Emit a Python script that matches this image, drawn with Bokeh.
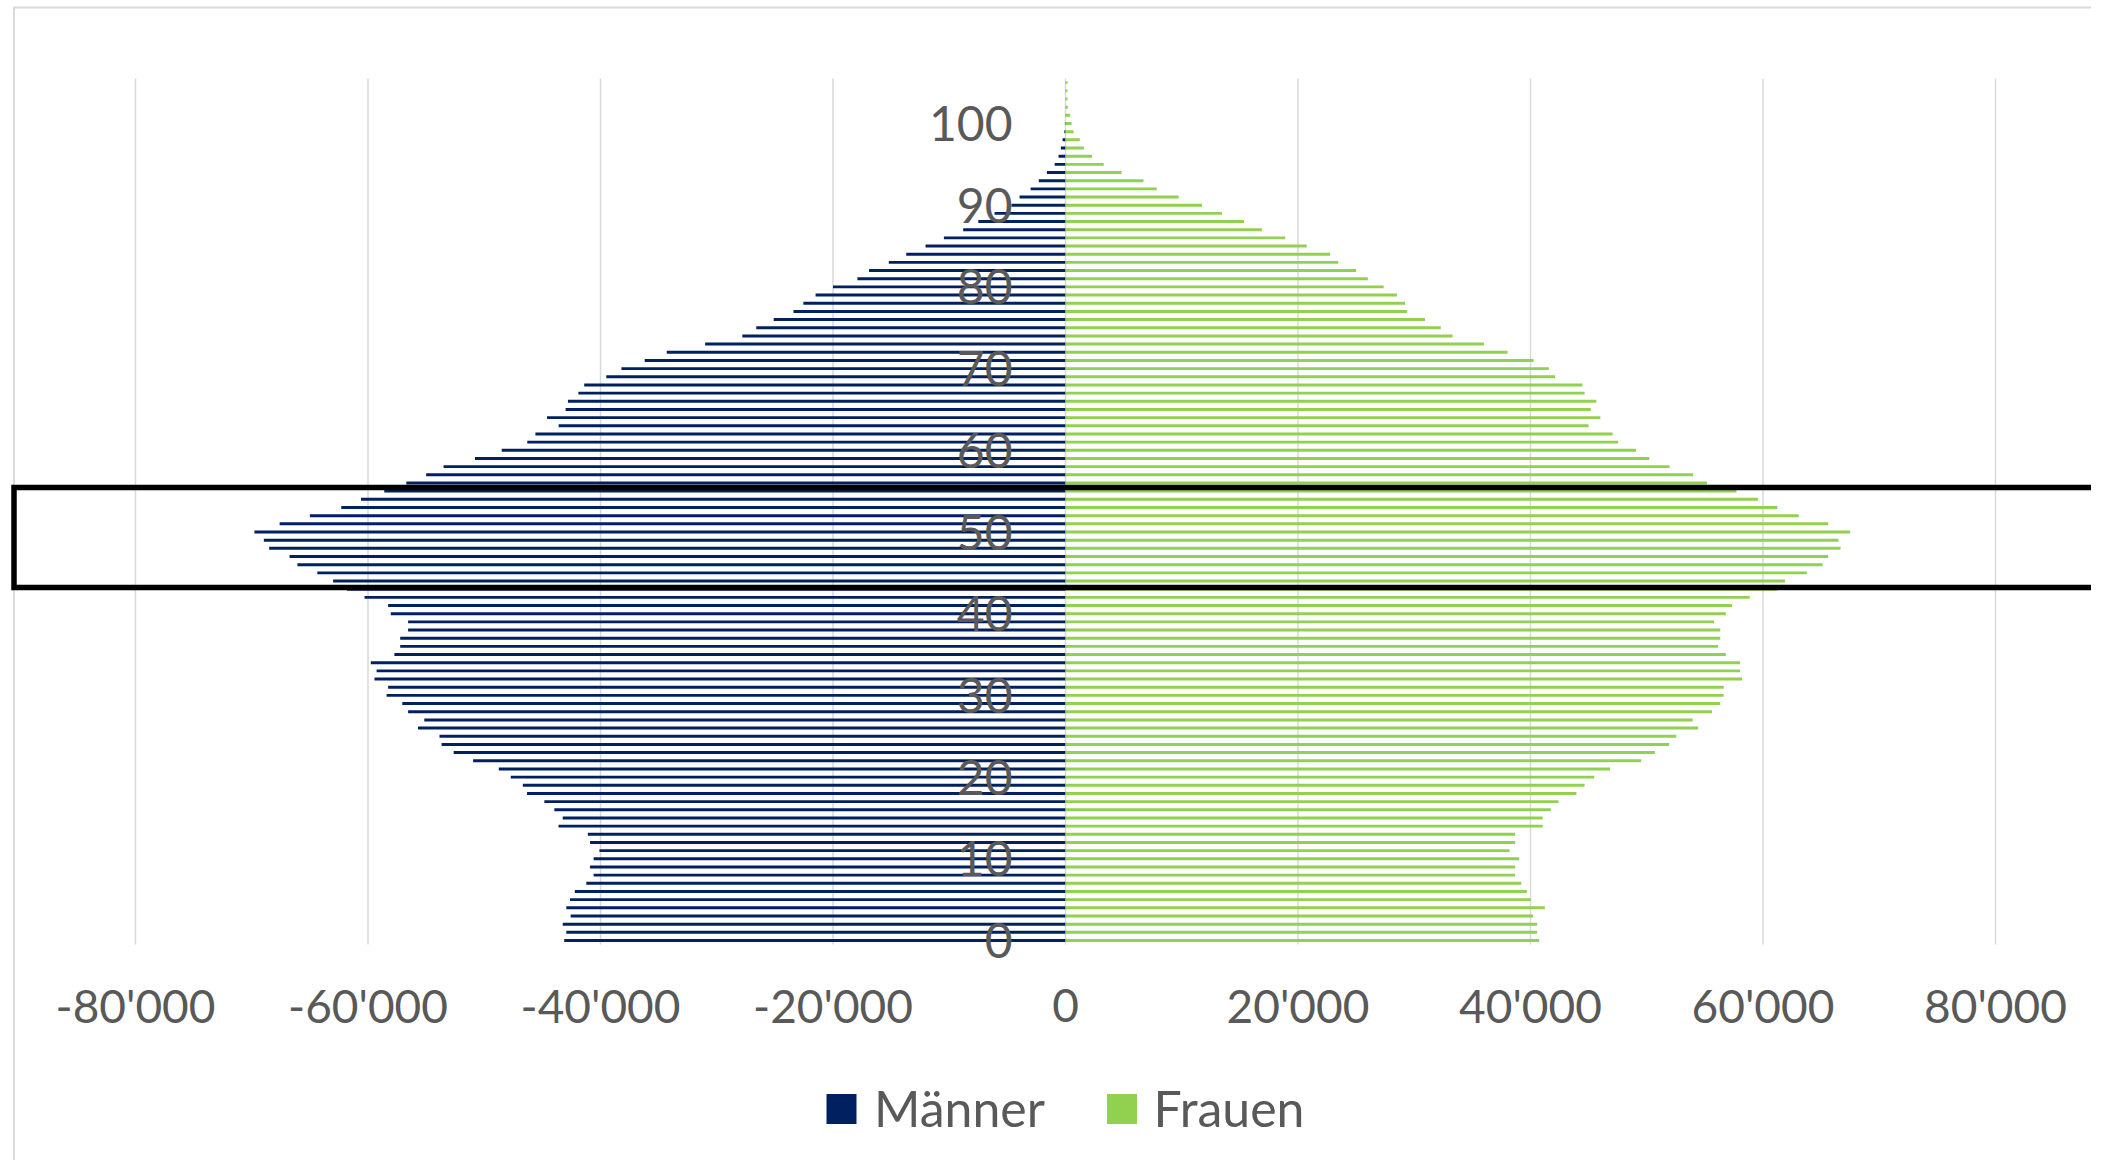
from bokeh.plotting import figure
from bokeh.models import Range1d
from bokeh.core.properties import value
from bokeh.embed import file_html
from bokeh.resources import INLINE

# ---------------- data ----------------
ages = list(range(0, 106))

maenner = [
    43120, 42940, 43250, 42570, 42940, 42620, 42210, 41220, 40590, 40900,
    40590, 40090, 40900, 41090, 43610, 43250, 43970, 44830, 46320, 46680,
    47720, 48750, 50960, 52630, 53670, 53850, 55700, 55160, 56550, 57050,
    58400, 58270, 59440, 59260, 59760, 57730, 57230, 57230, 56550, 56550,
    58040, 58270, 60300, 61800, 63000, 64360, 66070, 66750, 68500, 68960,
    69770, 67600, 65000, 62300, 60600, 58600, 56700, 55000, 53500, 50800,
    48500, 46300, 45600, 43600, 44600, 43000, 42800, 41900, 41400, 39500,
    38200, 36200, 34300, 31000, 27800, 26600, 25100, 23400, 22550, 21500,
    20000, 17900, 16900, 15200, 13700, 12040, 10460, 8800, 7500, 6100,
    4650, 3950, 3000, 2300, 1600, 930, 600, 400, 250, 100,
    50, 20, 10, 5, 0, 0,
]

frauen = [
    40750, 40570, 40570, 40220, 41230, 40040, 39690, 39210, 38680, 38680,
    39030, 38200, 38680, 38680, 41050, 41050, 41750, 42410, 43950, 44650,
    45480, 46840, 49520, 50700, 51930, 52540, 54430, 53950, 55610, 56320,
    56620, 56620, 58200, 58030, 58030, 56800, 56140, 56320, 56320, 55790,
    56800, 57320, 58860, 61230, 61890, 63770, 65130, 65610, 66670, 66490,
    67500, 65610, 63070, 61230, 59560, 57720, 55180, 53990, 51970, 50220,
    49080, 47540, 47060, 45000, 46010, 45180, 45660, 44650, 44470, 42110,
    41580, 40260, 38030, 36010, 33290, 32280, 30920, 29390, 29210, 28510,
    27370, 26010, 25000, 23460, 22760, 20750, 18900, 16890, 15350, 13460,
    11750, 9740, 7850, 6710, 4820, 3290, 2280, 1580, 1230, 700,
    530, 400, 200, 170, 170, 170,
]

x_ticks = [-80000, -60000, -40000, -20000, 0, 20000, 40000, 60000, 80000]
x_tick_labels = ["-80'000", "-60'000", "-40'000", "-20'000", "0",
                 "20'000", "40'000", "60'000", "80'000"]
age_ticks = [0, 10, 20, 30, 40, 50, 60, 70, 80, 90, 100]
age_tick_labels = [str(a) for a in age_ticks]

series_names = ["Männer", "Frauen"]
series_colors = ["#002060", "#92D050"]

highlight_ages = (43.2, 55.45)   # highlighted age band (box)

# ---------------- layout (figure pixel mapping) ----------------
W, H = 2091, 1160
PX0 = 1065.0          # figure px of value 0
PX_PER_UNIT = 0.011625
PY0 = 940.0           # figure px of age 0
PY_PER_AGE = 8.17


def dx(px):
    return (px - PX0) / PX_PER_UNIT


def dy(py):
    return (PY0 - py) / PY_PER_AGE


p = figure(width=W, height=H, output_backend="svg", toolbar_location=None,
           x_range=Range1d(dx(0), dx(W)), y_range=Range1d(dy(H), dy(0)),
           x_axis_location=None, y_axis_location=None, min_border=0,
           background_fill_color="white", border_fill_color="white")
p.outline_line_color = None
p.grid.visible = False

TEXT = "#595959"
FONT = value("Lato")

# gridlines
p.segment(x0=x_ticks, y0=-0.5, x1=x_ticks, y1=105.5,
          line_color="#d9d9d9", line_width=1.5)

# bars
p.hbar(y=ages, left=0, right=[-v for v in maenner], height=0.36,
       fill_color=series_colors[0], line_color=None)
p.hbar(y=ages, left=0, right=frauen, height=0.36,
       fill_color=series_colors[1], line_color=None)

# age labels (vertical category axis)
p.text(x=[dx(1012)] * len(age_ticks), y=[a + 0.0 for a in age_ticks],
       text=age_tick_labels, text_align="right", text_baseline="alphabetic",
       text_font=FONT, text_font_size="48px", text_color=TEXT)

# value tick labels
p.text(x=x_ticks, y=[dy(1005)] * len(x_ticks), text=x_tick_labels,
       text_align="center", text_baseline="alphabetic",
       text_font=FONT, text_font_size="46px", text_color=TEXT)

# legend
p.scatter(x=[dx(841), dx(1121.5)], y=[dy(1108.5)] * 2, marker="square", size=30,
          fill_color=series_colors, line_color=None)
p.text(x=[dx(873.5), dx(1153)], y=[dy(1107)] * 2, text=series_names,
       text_align="left", text_baseline="alphabetic",
       text_font=FONT, text_font_size="50px", text_color=TEXT)

# chart border (top / left)
p.line(x=[dx(13.4), dx(13.4), dx(W + 30)], y=[dy(H + 30), dy(7.0), dy(7.0)],
       line_color="#d9d9d9", line_width=2)

# highlight box
top = highlight_ages[1]
bottom = highlight_ages[0]
p.line(x=[dx(W + 60), dx(13.5), dx(13.5), dx(W + 60)], y=[top, top, bottom, bottom],
       line_color="black", line_width=5.5, line_join="miter")

open("out.html", "w").write(file_html(p, INLINE))
